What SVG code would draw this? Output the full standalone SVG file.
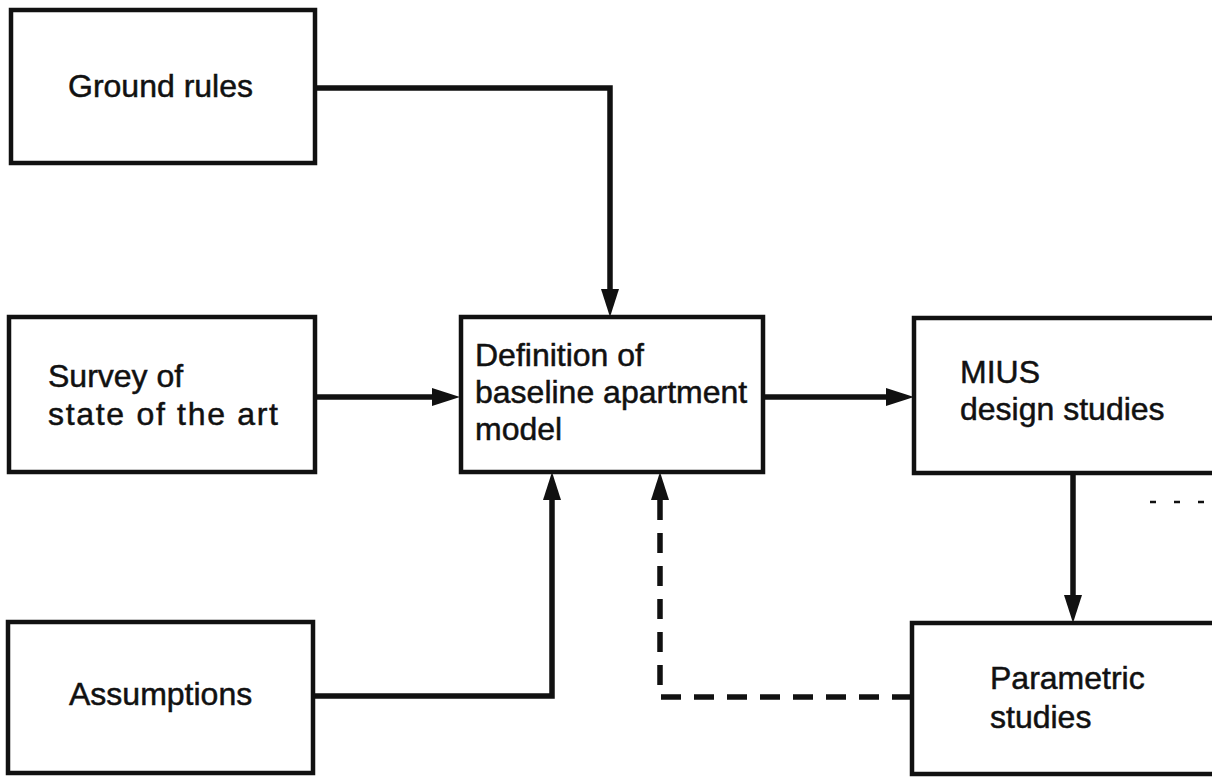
<svg xmlns="http://www.w3.org/2000/svg" width="1212" height="777" viewBox="0 0 1212 777">
<style>
.box{fill:#fff;stroke:#111;stroke-width:4.5}
.t{font-family:"Liberation Sans",Arial,sans-serif;font-size:32px;fill:#111;stroke:#111;stroke-width:0.5}
.c{fill:none;stroke:#111;stroke-width:5.5}
.d{stroke-dasharray:20 13}
</style>
<defs>
<marker id="ah" markerUnits="userSpaceOnUse" markerWidth="30" markerHeight="20" refX="2" refY="9" orient="auto">
<path d="M0,0 L28,9 L0,18 z" fill="#111"/>
</marker>
</defs>
<rect width="1212" height="777" fill="#fff"/>
<g id="connectors">
<path class="c" d="M315,88 H610 V291" marker-end="url(#ah)"/>
<path class="c" d="M315,397 H434" marker-end="url(#ah)"/>
<path class="c" d="M763,397 H888" marker-end="url(#ah)"/>
<path class="c" d="M313,696 H552 V498" marker-end="url(#ah)"/>
<path class="c" d="M1073,473 V597" marker-end="url(#ah)"/>
<path class="c d" d="M912,697 H660 V498" marker-end="url(#ah)"/>
<path class="c" d="M1150,502 H1212" style="stroke-width:2.5;stroke-dasharray:6 18"/>
</g>
<g id="ground-rules">
<rect class="box" x="11" y="10" width="304" height="153"/>
<text class="t" x="68" y="97">Ground rules</text>
</g>
<g id="survey">
<rect class="box" x="9" y="317" width="306" height="155"/>
<text class="t" x="48" y="387">Survey of</text>
<text class="t" x="48" y="425" textLength="230">state of the art</text>
</g>
<g id="assumptions">
<rect class="box" x="8" y="622" width="305" height="151"/>
<text class="t" x="69" y="705">Assumptions</text>
</g>
<g id="definition">
<rect class="box" x="461" y="317" width="302" height="155"/>
<text class="t" x="475" y="366">Definition of</text>
<text class="t" x="475" y="403">baseline apartment</text>
<text class="t" x="475" y="440">model</text>
</g>
<g id="mius">
<rect class="box" x="914" y="318" width="320" height="155"/>
<text class="t" x="960" y="383">MIUS</text>
<text class="t" x="960" y="420">design studies</text>
</g>
<g id="parametric">
<rect class="box" x="912" y="623" width="320" height="151"/>
<text class="t" x="990" y="689">Parametric</text>
<text class="t" x="990" y="728">studies</text>
</g>
</svg>
